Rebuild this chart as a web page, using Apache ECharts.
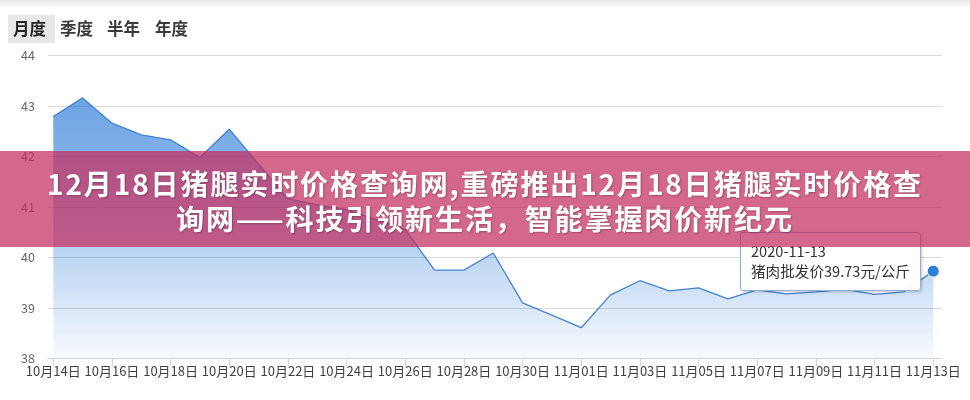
<!DOCTYPE html>
<html>
<head>
<meta charset="utf-8">
<script src="https://cdn.jsdelivr.net/npm/echarts@6/dist/echarts.min.js"></script>
<style>
  html, body { margin: 0; padding: 0; background: #fff; }
  #wrap { position: relative; width: 970px; height: 400px; overflow: hidden; }
  #chart { position: absolute; left: 0; top: 0; width: 970px; height: 400px; }
  #topshade { position: absolute; left: 0; top: 0; width: 970px; height: 8px;
    background: linear-gradient(#e6e6e6, rgba(255,255,255,0)); z-index: 2; }
  #banner { position: absolute; left: 0; top: 151px; width: 970px; height: 96px;
    background: rgba(195, 45, 95, 0.72); z-index: 99999999; box-sizing: border-box;
    padding-top: 15px; text-align: center; color: #fff; white-space: nowrap;
    font-family: "Noto Sans CJK SC", sans-serif; font-weight: bold; font-size: 28px;
    line-height: 35px; letter-spacing: 1.9px; text-shadow: 1px 1px 2px rgba(0,0,0,0.25); }
</style>
</head>
<body>
<div id="wrap">
  <div id="chart"></div>
  <div id="topshade"></div>
  <div id="banner">12月18日猪腿实时价格查询网,重磅推出12月18日猪腿实时价格查<br>询网——科技引领新生活，智能掌握肉价新纪元</div>
</div>
<script>
// ---- data ----
const dates = [
  '2020-10-14','2020-10-15','2020-10-16','2020-10-17','2020-10-18','2020-10-19','2020-10-20',
  '2020-10-21','2020-10-22','2020-10-23','2020-10-24','2020-10-25','2020-10-26','2020-10-27',
  '2020-10-28','2020-10-29','2020-10-30','2020-10-31','2020-11-01','2020-11-02','2020-11-03',
  '2020-11-04','2020-11-05','2020-11-06','2020-11-07','2020-11-08','2020-11-09','2020-11-10',
  '2020-11-11','2020-11-12','2020-11-13'
];
const prices = [
  42.79, 43.16, 42.66, 42.43, 42.33, 41.98, 42.54,
  41.85, 41.16, 41.04, 40.95, 40.75, 40.55, 39.75,
  39.75, 40.09, 39.10, 38.86, 38.61, 39.26, 39.54,
  39.34, 39.40, 39.18, 39.36, 39.28, 39.32, 39.37,
  39.27, 39.32, 39.73
];
const tabs = ['月度', '季度', '半年', '年度'];
const seriesName = '猪肉批发价';
const unit = '元/公斤';

function label(d) {
  const p = d.split('-');
  return p[1] + '月' + p[2] + '日';
}
const labelIdx = dates.map((d, i) => i).filter(i => i % 2 === 0);
const lastIdx = prices.length - 1;
const seriesData = prices.map((v, i) => i === lastIdx
  ? { value: [i, v], symbol: 'circle', symbolSize: 12,
      itemStyle: { color: '#2f7ed8', borderColor: '#ffffff', borderWidth: 1 } }
  : { value: [i, v], symbol: 'none' });

const tabX = [13, 60, 107, 155];
const graphics = [
  { type: 'rect', left: 8, top: 15, shape: { width: 47, height: 28 }, style: { fill: '#e8e8e8' } }
].concat(tabs.map((t, i) => ({
  type: 'text', left: tabX[i], top: 20,
  style: { text: t, fill: i === 0 ? '#222' : '#3a3a3a', font: 'bold 16.5px "Noto Sans CJK SC", sans-serif' }
})));

const chart = echarts.init(document.getElementById('chart'));
chart.setOption({
  animation: false,
  graphic: graphics,
  grid: { left: 48, right: 28, top: 55.5, bottom: 41.5 },
  tooltip: {
    show: true, trigger: 'item', triggerOn: 'none', alwaysShowContent: true,
    transitionDuration: 0, showDelay: 0,
    position: function () { return [740, 232]; },
    backgroundColor: 'rgba(255,255,255,0.96)', borderColor: '#8fb0d9', borderWidth: 1,
    padding: [8, 10, 9, 10],
    textStyle: { color: '#333', fontSize: 14.6, fontFamily: '"Noto Sans CJK SC", sans-serif', lineHeight: 20 },
    extraCssText: 'border-radius:3px;box-shadow:1px 1px 3px rgba(0,0,0,0.22);line-height:20px;',
    formatter: function (p) {
      const i = p.value[0];
      return '<div style="line-height:20px">' + dates[i] + '</div><div style="line-height:20px">' +
        seriesName + p.value[1].toFixed(2) + unit + '</div>';
    }
  },
  xAxis: {
    type: 'value', min: -0.18, max: 30.3,
    axisLine: { show: true, onZero: false, lineStyle: { color: '#ccd6eb', width: 1 } },
    axisTick: { show: true, length: 8, lineStyle: { color: '#ccd6eb' }, customValues: labelIdx },
    axisLabel: {
      customValues: labelIdx, margin: 6, color: '#404040', fontSize: 13,
      fontFamily: '"Noto Sans CJK SC", sans-serif',
      formatter: function (v) { return label(dates[Math.round(v)]); }
    },
    splitLine: { show: false }
  },
  yAxis: {
    type: 'value', min: 38, max: 44, interval: 1,
    axisLine: { show: false }, axisTick: { show: false },
    axisLabel: { color: '#666', fontSize: 12.5, margin: 13, fontFamily: '"Noto Sans CJK SC", sans-serif' },
    splitLine: { lineStyle: { color: '#dadada', width: 1 } }
  },
  series: [{
    type: 'line', name: seriesName, data: seriesData,
    lineStyle: { color: '#4483cf', width: 1.3 },
    emphasis: { disabled: true },
    areaStyle: {
      color: new echarts.graphic.LinearGradient(0, 0, 0, 1, [
        { offset: 0, color: 'rgba(45,124,216,1)' },
        { offset: 0.2, color: 'rgba(47,126,216,0.88)' },
        { offset: 1, color: 'rgba(47,126,216,0.05)' }
      ])
    }
  }]
});
chart.dispatchAction({ type: 'showTip', seriesIndex: 0, dataIndex: lastIdx });
</script>
</body>
</html>
